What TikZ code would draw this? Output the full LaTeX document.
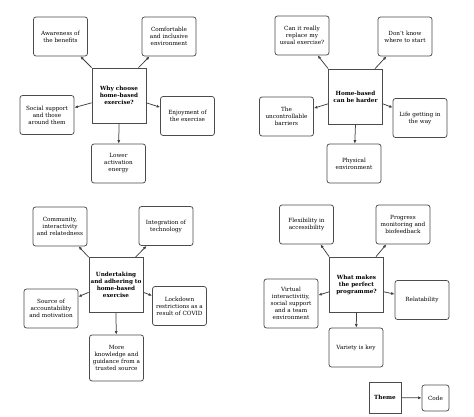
\documentclass[tikz,border=0pt]{standalone}
\usepackage{fontspec}
\setmainfont{DejaVu Serif}
\usetikzlibrary{arrows.meta}

\begin{document}
\begin{tikzpicture}[
        x=1pt, y=-1pt,
        every node/.style={font=\fontsize{5.7}{7}\selectfont},
        code/.style={draw=black!70, line width=0.75pt, rounded corners=2.5pt, fill=white,
            minimum width=54pt, minimum height=39pt, text width=51pt, align=center, inner sep=1pt},
        theme/.style={draw=black!70, line width=0.75pt, fill=white,
            minimum width=54pt, minimum height=55pt, text width=51pt, align=center, inner sep=1pt,
            font=\fontsize{5.7}{7}\selectfont\bfseries},
        link/.style={draw=black!75, line width=0.75pt, -{Latex[length=3.5pt,width=3pt]}}
    ]
        \useasboundingbox (0,0) rectangle (474,417);

        % why choose
        \node[theme] (why) at (119,95.5) {Why choose\\home-based\\exercise?};
        \node[code] (aware) at (60.5,36.5) {Awareness of\\the benefits};
        \node[code] (comfort) at (169,36.5) {Comfortable\\and inclusive\\environment};
        \node[code] (social) at (47,115) {Social support\\and those\\around them};
        \node[code] (enjoy) at (187.5,116) {Enjoyment of\\the exercise};
        \node[code] (lower) at (118.5,163.5) {Lower\\activation\\energy};
        \draw[link] (why.north west) -- (aware);
        \draw[link] (why.55) -- (comfort);
        \draw[link] (why.195) -- (social);
        \draw[link] (why.-15) -- (enjoy);
        \draw[link] (why.south) -- (lower);

        % harder
        \node[theme] (harder) at (355.5,96.5) {Home-based\\can be harder};
        \node[code] (replace) at (302,35.5) {Can it really\\replace my\\usual exercise?};
        \node[code] (start) at (405,36.5) {Don’t know\\where to start};
        \node[code] (barrier) at (286.5,116.5) {The\\uncontrollable\\barriers};
        \node[code] (life) at (420,118) {Life getting in\\the way};
        \node[code] (physical) at (354,163.5) {Physical\\environment};
        \draw[link] (harder.north west) -- (replace);
        \draw[link] (harder.55) -- (start);
        \draw[link] (harder.195) -- (barrier);
        \draw[link] (harder.-15) -- (life);
        \draw[link] (harder.south) -- (physical);

        % adhering
        \node[theme] (adhere) at (116,285) {Undertaking\\and adhering to\\home-based\\exercise};
        \node[code] (community) at (60,226.5) {Community,\\interactivity\\and relatedness};
        \node[code] (tech) at (166,226) {Integration of\\technology};
        \node[code] (account) at (51,308.5) {Source of\\accountability\\and motivation};
        \node[code] (lockdown) at (179.5,306) {Lockdown\\restrictions as a\\result of COVID};
        \node[code, minimum height=46pt] (knowledge) at (116.5,358) {More\\knowledge and\\guidance from a\\trusted source};
        \draw[link] (adhere.north west) -- (community);
        \draw[link] (adhere.55) -- (tech);
        \draw[link] (adhere.195) -- (account);
        \draw[link] (adhere.-15) -- (lockdown);
        \draw[link] (adhere.south) -- (knowledge);

        % perfect programme
        \node[theme] (perfect) at (356.5,284.5) {What makes\\the perfect\\programme?};
        \node[code] (flex) at (306.5,224.5) {Flexibility in\\accessibility};
        \node[code] (progress) at (403,224.5) {Progress\\monitoring and\\biofeedback};
        \node[code, minimum height=49pt] (virtual) at (291,303.5) {Virtual\\interactivitiy,\\social support\\and a team\\environment};
        \node[code] (relate) at (422,300) {Relatability};
        \node[code] (variety) at (356,347.5) {Variety is key};
        \draw[link] (perfect.north west) -- (flex);
        \draw[link] (perfect.55) -- (progress);
        \draw[link] (perfect.195) -- (virtual);
        \draw[link] (perfect.-15) -- (relate);
        \draw[link] (perfect.south) -- (variety);

        % key
        \node[theme, minimum width=32pt, minimum height=31pt, text width=29pt] (theme) at (385,397.5) {Theme};
        \node[code, minimum width=27pt, minimum height=26pt, text width=24pt] (code) at (435.5,398) {Code};
        \draw[link] (theme) -- (code);
    \end{tikzpicture}
\end{document}
